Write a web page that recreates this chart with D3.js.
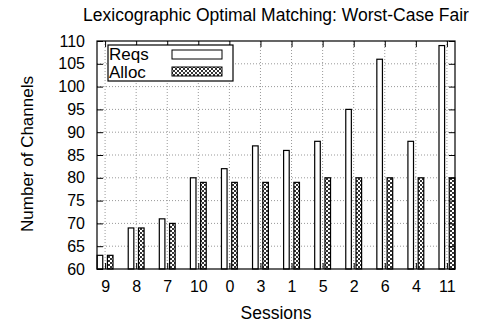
<!DOCTYPE html>
<html>
<head>
<meta charset="utf-8">
<script src="https://cdn.jsdelivr.net/npm/d3@7"></script>
<style>
  body { margin: 0; background: #fff; }
  svg text { font-family: "Liberation Sans", Arial, sans-serif; fill: #000; }
</style>
</head>
<body>
<div id="chart"></div>
<script>
// data
var sessions = ["9", "8", "7", "10", "0", "3", "1", "5", "2", "6", "4", "11"];
var reqs  = [63, 69, 71, 80, 82, 87, 86, 88, 95, 106, 88, 109];
var alloc = [63, 69, 70, 79, 79, 79, 79, 80, 80, 80, 80, 80];
var yTicks = [60, 65, 70, 75, 80, 85, 90, 95, 100, 105, 110];

var W = 485, H = 326;
var margin = {top: 41, right: 30, bottom: 57, left: 97};
var width = W - margin.left - margin.right,
    height = H - margin.top - margin.bottom;

var svg = d3.select("#chart").append("svg")
    .attr("width", W).attr("height", H);

var defs = svg.append("defs");
var pat = defs.append("pattern")
    .attr("id", "hatch")
    .attr("patternUnits", "userSpaceOnUse")
    .attr("width", 4).attr("height", 4);
pat.append("rect").attr("width", 4).attr("height", 4).attr("fill", "#fff");
pat.append("path").attr("d", "M0,0L4,4M4,0L0,4")
    .attr("stroke", "#000").attr("stroke-width", 0.8);

var g = svg.append("g")
    .attr("transform", "translate(" + margin.left + "," + margin.top + ")");

var x = d3.scaleLinear().domain([-0.26, sessions.length - 1 + 0.26]).range([0, width]);
var y = d3.scaleLinear().domain([60, 110]).range([height, 0]);

// grid
g.selectAll(".hgrid").data(yTicks.slice(1, -1)).enter().append("line")
    .attr("x1", 0).attr("x2", width)
    .attr("y1", function(d) { return y(d); }).attr("y2", function(d) { return y(d); })
    .attr("stroke", "#999").attr("stroke-width", 1).attr("stroke-dasharray", "1,2");
g.selectAll(".vgrid").data(sessions).enter().append("line")
    .attr("x1", function(d, i) { return x(i); }).attr("x2", function(d, i) { return x(i); })
    .attr("y1", 0).attr("y2", height)
    .attr("stroke", "#999").attr("stroke-width", 1).attr("stroke-dasharray", "1,2");

// bars
var bw = 0.18, off = 0.165;
g.selectAll(".req").data(reqs).enter().append("rect")
    .attr("x", function(d, i) { return x(i - off - bw / 2); })
    .attr("width", x(bw) - x(0))
    .attr("y", function(d) { return y(d); })
    .attr("height", function(d) { return y(60) - y(d); })
    .attr("fill", "#fff").attr("stroke", "#000").attr("stroke-width", 1.2);
g.selectAll(".alloc").data(alloc).enter().append("rect")
    .attr("x", function(d, i) { return x(i + off - bw / 2); })
    .attr("width", x(bw) - x(0))
    .attr("y", function(d) { return y(d); })
    .attr("height", function(d) { return y(60) - y(d); })
    .attr("fill", "url(#hatch)").attr("stroke", "#000").attr("stroke-width", 1.2);

// axes
var yAxis = d3.axisLeft(y).tickValues(yTicks).tickSize(-6).tickPadding(12);
var yAxisR = d3.axisRight(y).tickValues(yTicks).tickSize(-6).tickFormat("");
var xAxis = d3.axisBottom(x).tickValues(d3.range(sessions.length))
    .tickFormat(function(i) { return sessions[i]; }).tickSize(-6).tickPadding(12);
var xAxisT = d3.axisTop(x).tickValues(d3.range(sessions.length)).tickSize(-6).tickFormat("");

function styleAxis(sel) {
  sel.select(".domain").remove();
  sel.selectAll(".tick line").attr("stroke", "#000");
  sel.selectAll("text").attr("font-size", 16);
}
g.append("g").call(yAxis).call(styleAxis);
g.append("g").attr("transform", "translate(" + width + ",0)").call(yAxisR).call(styleAxis);
g.append("g").attr("transform", "translate(0," + height + ")").call(xAxis).call(styleAxis);
g.append("g").call(xAxisT).call(styleAxis);

g.append("rect").attr("width", width).attr("height", height)
    .attr("fill", "none").attr("stroke", "#000").attr("stroke-width", 1.2);

// legend
var leg = g.append("g").attr("transform", "translate(11,4)");
leg.append("rect").attr("width", 125).attr("height", 36)
    .attr("fill", "#fff").attr("stroke", "#000").attr("stroke-width", 1.2);
var series = [{name: "Reqs", fill: "#fff"}, {name: "Alloc", fill: "url(#hatch)"}];
series.forEach(function(s, i) {
  leg.append("text").attr("x", 1).attr("y", 15 + i * 18)
      .attr("font-size", 17).text(s.name);
  leg.append("rect").attr("x", 64).attr("y", 5 + i * 17)
      .attr("width", 50).attr("height", 9)
      .attr("fill", s.fill).attr("stroke", "#000").attr("stroke-width", 1);
});

// titles
svg.append("text").attr("x", margin.left + width / 2).attr("y", 21)
    .attr("text-anchor", "middle").attr("font-size", 17.5)
    .text("Lexicographic Optimal Matching: Worst-Case Fair");
svg.append("text").attr("x", margin.left + width / 2).attr("y", 319)
    .attr("text-anchor", "middle").attr("font-size", 17.5).text("Sessions");
svg.append("text")
    .attr("transform", "translate(33,154) rotate(-90)")
    .attr("text-anchor", "middle").attr("font-size", 17).text("Number of Channels");
</script>
</body>
</html>
